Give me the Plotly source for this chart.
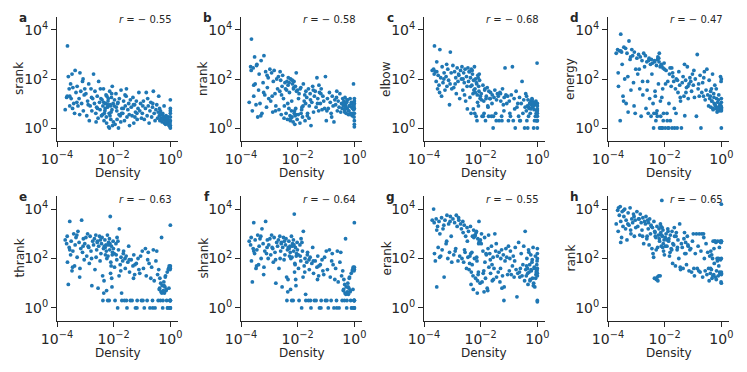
import numpy as np
import plotly.graph_objects as go

W, H = 747, 372

# log10(density), one value per matrix, shared by all eight panels
density_exp = [
    -3.71, -3.66, -3.63, -3.64, -3.60, -3.57, -3.55, -3.52, -3.50, -3.47,
    -3.44, -3.41, -3.38, -3.36, -3.33, -3.29, -3.26, -3.22, -3.19, -3.16,
    -3.13, -3.10, -3.07, -3.04, -3.02, -3.55, -3.45, -3.30, -3.20, -3.08,
    -2.98, -2.95, -2.92, -2.88, -2.86, -2.83, -2.80, -2.77, -2.74, -2.71,
    -2.68, -2.66, -2.63, -2.60, -2.58, -2.55, -2.53, -2.50, -2.48, -2.45,
    -2.43, -2.41, -2.38, -2.36, -2.34, -2.31, -2.29, -2.27, -2.25, -2.22,
    -2.20, -2.18, -2.16, -2.14, -2.12, -2.10, -2.08, -2.06, -2.04, -2.02,
    -2.30, -2.24, -2.15, -2.11, -2.05, -2.35, -2.26, -2.19, -2.09, -2.01,
    -1.98, -1.95, -1.92, -1.89, -1.86, -1.83, -1.80, -1.77, -1.74, -1.71,
    -1.68, -1.65, -1.62, -1.59, -1.56, -1.53, -1.50, -1.47, -1.44, -1.41,
    -1.38, -1.35, -1.32, -1.29, -1.26, -1.23, -1.20, -1.17, -1.14, -1.11,
    -1.08, -1.05, -1.02, -1.85, -1.75, -1.66, -1.55, -1.45, -1.30, -1.18,
    -0.99, -0.95, -0.92, -0.88, -0.85, -0.82, -0.78, -0.75, -0.72, -0.69,
    -0.66, -0.63, -0.60, -0.57, -0.54, -0.51, -0.48, -0.45, -0.43, -0.41,
    -0.39, -0.37, -0.35, -0.33, -0.31, -0.29, -0.27, -0.25, -0.23, -0.21,
    -0.19, -0.17, -0.15, -0.13, -0.11, -0.09, -0.07, -0.05, -0.03, -0.02,
    -0.38, -0.34, -0.30, -0.26, -0.22, -0.18, -0.14, -0.10, -0.06, -0.04,
    0.00, 0.00, 0.00, 0.00, 0.00, 0.00, -0.01, -0.01, 0.00, 0.00,
    -2.90, -2.62, -2.47, -2.39, -1.97, -1.88, -1.72, -1.60, -1.25, -0.97,
    -2.78, -2.57, -2.33, -2.21, -2.13, -2.07, -1.91, -1.81, -0.80, -0.62,
]

# log10 of each rank estimate
srank_exp = [
    0.75, 1.25, 3.35, 1.3, 2.1, 1.6, 0.9, 1.8, 1.2, 2.2,
    1.65, 1.0, 0.6, 2.35, 1.45, 1.7, 0.9, 1.2, 2.25, 1.5,
    1.0, 1.9, 0.7, 1.35, 1.6, 1.3, 0.8, 1.05, 0.55, 2.0,
    1.4, 0.5, 1.1, 1.8, 0.3, 0.9, 1.6, 0.7, 1.2, 2.2,
    1.0, 1.5, 0.6, 0.85, 1.3, 0.4, 1.9, 1.05, 0.75, 1.2,
    0.5, 1.15, 0.9, 1.6, 0.3, 0.7, 1.0, 1.35, 0.2, 0.85,
    1.1, 0.05, 0.6, 1.5, 0.95, 0.35, 1.25, 0.75, 0.1, 1.0,
    0.8, 1.3, 0.0, 0.9, 1.7, 1.05, 0.45, 1.2, 0.65, 0.25,
    0.9, 0.15, 1.4, 0.7, 1.0, 0.0, 1.2, 0.5, 1.55, 0.8,
    0.6, 1.1, 0.3, 0.9, 1.3, 0.45, 0.75, 1.0, 0.1, 1.15,
    0.85, 0.5, 1.25, 0.2, 0.95, 0.65, 1.1, 0.35, 0.8, 1.45,
    0.7, 1.0, 0.4, 1.05, 0.25, 0.8, 1.6, 0.55, 0.95, 0.6,
    0.6, 1.1, 0.35, 0.8, 1.45, 0.5, 0.9, 0.2, 0.7, 1.05,
    0.45, 0.85, 1.5, 0.6, 0.3, 0.75, 0.95, 0.4, 0.65, 1.3,
    0.5, 0.3, 0.7, 0.4, 0.55, 0.25, 0.6, 0.35, 0.45, 0.2,
    0.4, 0.15, 0.5, 0.3, 0.35, 0.2, 0.45, 0.1, 0.25, 0.3,
    0.8, 0.6, 0.35, 0.5, 0.9, 0.3, 0.25, 0.4, 0.2, 0.15,
    0.1, 0.3, 0.6, 0.8, 0.45, 1.15, 0.05, 0.2, 0.7, 0.0,
    0.95, 0.25, 1.6, 0.55, 1.15, 0.35, 0.6, 1.35, 0.45, 0.9,
    1.25, 0.8, 0.6, 0.95, 0.5, 1.4, 0.85, 0.55, 1.2, 1.0,
]

nrank_exp = [
    1.05, 2.5, 3.63, 2.35, 0.7, 2.45, 1.3, 2.9, 1.8, 0.95,
    2.6, 0.45, 1.55, 2.2, 1.0, 2.75, 0.6, 1.85, 2.95, 1.35,
    2.3, 0.85, 1.65, 2.05, 1.2, 1.75, 2.55, 0.5, 1.45, 2.15,
    2.4, 1.1, 2.25, 0.65, 1.9, 2.35, 1.4, 0.9, 2.0, 1.6,
    2.1, 0.75, 1.5, 1.95, 0.55, 1.7, 2.15, 1.2, 0.4, 1.85,
    1.6, 0.6, 1.9, 0.35, 1.75, 0.8, 1.45, 0.5, 2.0, 0.7,
    0.45, 1.8, 0.25, 1.65, 0.6, 0.15, 1.7, 0.55, 1.5, 0.35,
    1.85, 0.4, 1.6, 0.7, 2.25, 1.0, 0.3, 1.95, 0.5, 1.55,
    0.55, 1.4, 0.2, 1.65, 0.75, 0.45, 1.8, 1.1, 0.3, 1.5,
    1.25, 0.6, 1.6, 0.9, 1.4, 0.1, 1.05, 1.7, 0.65, 1.3,
    1.5, 0.85, 2.05, 1.2, 0.7, 1.45, 1.0, 1.6, 0.75, 1.3,
    1.1, 0.8, 2.1, 0.85, 1.35, 0.5, 1.15, 1.55, 1.0, 1.4,
    0.3, 1.2, 0.8, 1.45, 1.05, 0.6, 1.3, 0.9, 0.25, 1.15,
    0.95, 1.25, 0.7, 1.1, 0.85, 1.4, 0.65, 1.0, 0.8, 1.2,
    0.9, 1.1, 0.75, 1.25, 0.95, 0.6, 1.05, 0.8, 1.15, 0.55,
    0.7, 0.9, 1.2, 0.6, 1.0, 0.85, 0.5, 0.95, 1.8, 0.75,
    1.0, 0.65, 0.85, 1.15, 0.7, 0.9, 0.55, 1.05, 0.8, 0.6,
    0.05, 0.15, 0.6, 0.8, 1.0, 1.2, 0.45, 0.9, 0.3, 1.1,
    1.3, 2.3, 0.9, 1.55, 1.2, 0.6, 1.0, 0.4, 1.75, 0.7,
    0.7, 1.35, 2.05, 1.1, 1.9, 0.8, 1.6, 0.9, 0.45, 1.5,
]

elbow_exp = [
    2.35, 2.4, 3.35, 2.2, 2.3, 1.9, 2.7, 1.6, 2.15, 1.75,
    3.2, 2.05, 1.3, 2.5, 1.85, 2.25, 1.55, 2.1, 1.7, 2.4,
    1.95, 0.95, 3.1, 2.25, 1.6, 2.3, 1.45, 2.0, 2.6, 1.8,
    2.55, 1.65, 2.3, 2.05, 1.4, 2.45, 1.9, 2.15, 1.2, 2.35,
    2.0, 2.5, 1.55, 2.25, 1.85, 2.4, 1.1, 2.1, 1.7, 2.45,
    1.9, 2.3, 1.25, 2.05, 0.6, 1.75, 2.2, 1.4, 1.95, 2.5,
    1.6, 2.0, 0.48, 1.8, 1.35, 2.15, 0.9, 1.5, 1.95, 1.2,
    2.35, 1.55, 1.85, 1.05, 2.2, 1.7, 0.78, 1.45, 2.05, 1.3,
    1.4, 0.48, 1.75, 1.1, 1.55, 0.3, 1.3, 1.65, 0.85, 1.5,
    1.2, 1.45, 0.48, 1.35, 0.0, 1.25, 1.55, 0.6, 1.15, 1.4,
    1.3, 0.3, 1.45, 1.1, 0.48, 1.6, 0.95, 1.25, 2.45, 1.35,
    1.0, 1.3, 0.3, 1.6, 0.9, 1.2, 0.48, 0.3, 1.4, 0.7,
    1.1, 0.48, 1.35, 2.5, 0.3, 1.2, 0.0, 1.5, 0.85, 1.0,
    0.48, 1.25, 0.3, 1.0, 1.9, 0.6, 1.15, 0.0, 0.85, 1.4,
    0.7, 0.3, 0.9, 1.15, 0.48, 0.8, 1.0, 0.6, 1.1, 0.95,
    1.2, 0.85, 1.05, 0.0, 0.75, 0.95, 0.48, 1.1, 0.3, 0.7,
    1.3, 0.0, 0.85, 1.0, 0.78, 1.15, 0.9, 0.3, 1.05, 0.6,
    0.0, 0.3, 0.48, 0.6, 0.78, 0.9, 2.65, 0.3, 1.0, 0.7,
    1.8, 2.0, 0.78, 2.3, 1.15, 0.6, 0.48, 1.0, 0.3, 0.6,
    2.2, 1.35, 2.4, 0.6, 0.3, 1.7, 0.48, 1.2, 0.78, 0.3,
]

energy_exp = [
    3.05, 3.2, 1.7, 2.25, 3.15, 0.3, 3.83, 3.1, 2.6, 1.3,
    3.3, 2.0, 3.25, 1.0, 3.05, 0.65, 3.55, 2.8, 1.55, 3.2,
    2.95, 1.85, 3.1, 0.6, 2.4, 3.15, 1.1, 2.1, 2.9, 0.9,
    2.85, 2.2, 3.0, 1.6, 2.9, 0.48, 2.75, 1.35, 3.05, 2.5,
    2.95, 0.8, 2.7, 1.9, 0.6, 2.85, 1.2, 2.6, 0.48, 2.2,
    2.65, 1.0, 0.6, 2.75, 1.5, 0.3, 2.55, 0.7, 2.8, 1.8,
    2.7, 0.0, 2.5, 0.48, 2.6, 1.25, 0.0, 2.45, 0.6, 2.65,
    0.6, 2.9, 1.1, 2.55, 0.3, 2.7, 0.48, 3.05, 0.0, 2.4,
    0.0, 2.35, 0.6, 1.9, 0.0, 2.2, 0.3, 1.7, 0.0, 2.1,
    1.9, 0.0, 1.6, 2.0, 0.0, 1.45, 2.3, 1.75, 1.1, 0.0,
    1.85, 2.1, 1.3, 0.5, 1.95, 1.65, 2.5, 1.2, 1.8, 2.05,
    1.9, 1.5, 2.2, 1.0, 2.45, 0.8, 1.95, 1.25, 2.6, 1.7,
    1.75, 1.25, 2.0, 0.48, 3.0, 1.6, 1.3, 2.15, 0.0, 1.45,
    1.85, 1.3, 2.3, 1.15, 1.55, 2.4, 1.35, 0.9, 1.95, 1.2,
    1.3, 0.85, 1.6, 1.1, 2.2, 0.75, 1.4, 1.0, 1.75, 0.9,
    0.8, 1.2, 0.65, 1.05, 0.85, 1.35, 0.7, 0.95, 2.1, 0.75,
    1.5, 1.1, 0.8, 1.25, 0.95, 1.6, 0.75, 1.15, 0.9, 0.85,
    0.0, 0.8, 2.0, 0.85, 1.05, 0.75, 0.9, 1.9, 0.7, 1.2,
    2.4, 1.55, 2.8, 0.0, 1.8, 0.0, 2.25, 0.6, 1.45, 2.35,
    1.9, 2.75, 1.3, 2.85, 0.0, 1.6, 0.3, 2.45, 1.8, 2.05,
]

thrank_exp = [
    2.75, 2.6, 1.85, 2.9, 0.95, 2.45, 3.5, 2.15, 2.7, 1.5,
    2.3, 3.0, 1.7, 2.55, 2.85, 2.05, 3.1, 2.65, 1.6, 2.4,
    3.55, 2.25, 2.8, 1.95, 2.6, 2.35, 1.65, 2.95, 1.25, 2.5,
    2.85, 2.1, 3.0, 2.45, 1.8, 2.9, 2.3, 0.9, 2.7, 2.55,
    2.8, 1.55, 2.95, 2.35, 2.65, 0.8, 2.5, 2.9, 1.9, 2.2,
    2.6, 2.85, 0.3, 2.4, 1.1, 2.75, 2.15, 2.55, 0.7, 2.95,
    2.1, 2.65, 0.3, 2.35, 3.7, 1.85, 2.5, 0.85, 2.25, 2.7,
    2.45, 2.0, 2.8, 1.4, 2.15, 0.6, 2.3, 2.55, 1.7, 2.4,
    2.2, 0.3, 2.6, 1.95, 0.0, 2.35, 3.2, 1.75, 2.05, 0.3,
    1.9, 2.3, 0.3, 1.6, 2.1, 0.0, 1.85, 2.5, 1.45, 0.3,
    1.95, 0.3, 1.7, 2.15, 1.35, 0.0, 1.8, 0.3, 2.0, 1.55,
    1.4, 2.1, 0.3, 2.7, 1.5, 2.2, 0.3, 1.95, 1.2, 0.0,
    2.3, 1.6, 0.0, 2.4, 1.3, 0.3, 2.25, 1.8, 0.0, 1.2,
    1.65, 0.3, 2.35, 1.1, 0.0, 1.9, 2.3, 1.35, 0.3, 1.55,
    0.75, 1.2, 0.3, 0.65, 2.85, 0.9, 0.0, 0.7, 1.05, 0.6,
    0.85, 1.3, 0.7, 0.3, 1.45, 0.0, 1.55, 0.8, 1.65, 0.3,
    0.8, 1.0, 0.6, 0.3, 0.9, 1.25, 0.75, 0.0, 1.6, 1.7,
    0.0, 0.3, 1.7, 3.35, 1.6, 0.3, 0.0, 1.55, 0.3, 0.0,
    2.5, 2.05, 2.75, 1.3, 1.65, 2.85, 0.6, 2.0, 1.75, 0.3,
    2.0, 2.7, 2.5, 0.3, 2.6, 1.2, 2.15, 1.3, 1.95, 0.0,
]

shrank_exp = [
    2.7, 2.55, 1.9, 2.85, 1.05, 2.4, 3.45, 2.2, 2.75, 1.6,
    2.35, 2.95, 1.75, 2.5, 2.8, 2.0, 3.2, 2.6, 1.65, 2.3,
    3.5, 2.2, 2.75, 2.0, 2.55, 2.3, 1.7, 2.9, 1.35, 2.45,
    2.8, 2.15, 2.95, 2.4, 1.85, 2.85, 2.25, 1.0, 2.65, 2.5,
    2.75, 1.6, 2.9, 2.3, 2.6, 0.85, 2.45, 2.85, 1.95, 2.15,
    2.55, 2.8, 0.3, 2.35, 1.15, 2.7, 2.1, 2.5, 0.75, 2.9,
    2.05, 2.6, 0.3, 2.3, 3.8, 1.8, 2.45, 0.9, 2.2, 2.65,
    2.4, 2.0, 2.75, 1.45, 2.1, 0.65, 2.25, 2.5, 1.75, 2.35,
    2.15, 0.3, 2.55, 1.9, 0.0, 2.3, 3.1, 1.7, 2.0, 0.3,
    1.85, 2.25, 0.3, 1.55, 2.05, 0.0, 1.8, 2.45, 1.4, 0.3,
    1.9, 0.3, 1.65, 2.1, 1.3, 0.0, 1.75, 0.3, 1.95, 1.5,
    1.35, 2.05, 0.3, 2.65, 1.45, 2.15, 0.3, 1.9, 1.15, 0.0,
    2.3, 1.55, 0.0, 2.35, 1.25, 0.3, 2.2, 1.75, 0.0, 1.15,
    1.6, 0.3, 2.3, 1.05, 0.0, 1.85, 2.25, 1.3, 0.3, 1.5,
    0.7, 1.15, 0.3, 0.6, 2.8, 0.85, 0.0, 0.65, 1.0, 0.55,
    0.8, 1.25, 0.65, 0.3, 1.4, 0.0, 1.5, 0.75, 1.6, 0.3,
    0.75, 0.95, 0.55, 0.3, 0.85, 1.2, 0.7, 0.0, 1.55, 1.65,
    0.0, 0.3, 1.65, 3.45, 1.55, 0.3, 0.0, 1.5, 0.3, 0.0,
    2.45, 2.0, 2.7, 1.25, 1.6, 2.8, 0.55, 1.95, 1.7, 0.3,
    1.95, 2.65, 2.45, 0.3, 2.55, 1.15, 2.1, 1.25, 1.9, 0.0,
]

erank_exp = [
    3.55, 4.0, 2.2, 3.45, 1.9, 3.6, 0.85, 3.3, 2.45, 3.5,
    3.0, 2.1, 3.65, 2.35, 3.2, 1.25, 3.55, 2.6, 3.75, 2.0,
    3.4, 2.25, 3.7, 2.9, 1.85, 3.15, 2.05, 3.35, 2.7, 3.5,
    3.6, 2.15, 3.45, 2.4, 3.75, 3.3, 1.9, 3.55, 2.1, 3.4,
    3.2, 2.0, 3.5, 1.85, 3.35, 2.25, 2.9, 1.6, 3.25, 2.05,
    3.1, 1.55, 2.1, 3.3, 0.95, 2.25, 2.9, 1.3, 3.15, 2.0,
    2.95, 1.2, 3.05, 2.05, 0.6, 2.8, 1.45, 3.5, 2.7, 1.0,
    1.75, 2.85, 3.1, 1.1, 2.65, 2.2, 0.75, 2.95, 1.35, 2.75,
    2.6, 1.05, 2.3, 1.5, 2.85, 1.2, 2.15, 0.8, 2.4, 1.65,
    2.2, 1.4, 2.5, 1.1, 2.05, 1.6, 3.0, 2.3, 1.25, 2.1,
    1.45, 2.25, 1.05, 2.0, 2.35, 1.3, 2.15, 0.85, 1.9, 2.4,
    2.05, 1.35, 2.5, 1.85, 0.7, 1.95, 1.15, 2.6, 1.6, 0.3,
    1.5, 2.3, 1.35, 1.7, 2.1, 1.25, 2.45, 1.55, 0.45, 1.4,
    2.65, 1.45, 1.6, 2.2, 1.3, 1.75, 2.5, 1.1, 3.1, 1.55,
    1.3, 2.0, 1.6, 0.95, 2.35, 1.45, 1.75, 1.15, 2.15, 1.5,
    1.85, 1.2, 2.45, 1.0, 1.65, 0.85, 2.1, 1.35, 1.55, 1.75,
    1.7, 1.4, 2.25, 1.1, 1.55, 1.95, 0.9, 1.6, 1.2, 1.45,
    2.0, 0.25, 0.3, 2.4, 1.6, 1.3, 1.9, 1.5, 1.4, 2.2,
    2.3, 3.05, 2.7, 1.8, 3.0, 0.65, 2.95, 1.75, 0.8, 2.0,
    3.65, 2.35, 1.45, 2.9, 1.9, 2.6, 1.4, 2.2, 1.9, 1.25,
]

rank_exp = [
    3.4, 3.95, 4.05, 3.1, 3.75, 4.1, 3.5, 2.85, 3.9, 3.3,
    3.7, 4.0, 3.2, 3.55, 2.75, 3.85, 3.35, 4.05, 3.0, 3.6,
    3.45, 3.8, 2.9, 3.55, 3.25, 2.65, 3.95, 3.4, 3.15, 3.7,
    3.9, 3.3, 3.6, 2.95, 3.8, 3.45, 3.15, 3.65, 2.6, 3.5,
    3.4, 3.7, 2.8, 3.55, 3.2, 2.55, 3.6, 3.0, 3.35, 2.4,
    3.25, 2.2, 3.5, 1.2, 3.05, 2.85, 1.15, 3.3, 2.45, 2.95,
    3.2, 2.7, 1.3, 3.05, 2.5, 4.35, 2.9, 3.15, 2.3, 2.75,
    2.35, 1.1, 3.4, 2.95, 2.6, 3.1, 1.25, 2.8, 3.25, 2.15,
    2.85, 3.0, 2.5, 3.2, 2.7, 2.1, 2.95, 2.4, 3.1, 2.6,
    2.55, 2.9, 1.7, 3.05, 2.35, 2.75, 2.0, 3.4, 1.55, 2.6,
    2.45, 1.6, 2.8, 2.2, 2.65, 1.75, 2.9, 2.5, 1.5, 2.35,
    2.4, 1.45, 2.7, 2.8, 2.35, 3.25, 2.45, 1.65, 3.05, 2.55,
    3.0, 1.3, 2.2, 3.0, 1.6, 2.5, 3.0, 1.45, 2.3, 3.0,
    1.25, 3.0, 2.0, 1.5, 2.6, 1.35, 2.25, 1.6, 1.1, 2.1,
    1.4, 2.3, 1.55, 1.2, 2.0, 2.7, 1.35, 1.8, 2.7, 1.25,
    2.65, 1.5, 2.0, 2.7, 1.3, 1.7, 2.45, 1.4, 1.95, 2.65,
    1.6, 2.15, 1.3, 2.4, 2.7, 1.15, 1.9, 2.0, 1.45, 2.7,
    4.2, 2.7, 1.4, 1.0, 2.0, 1.45, 2.65, 1.05, 1.35, 2.7,
    3.6, 2.9, 3.3, 2.05, 2.5, 3.1, 1.8, 2.9, 2.2, 1.6,
    2.9, 3.45, 2.9, 1.3, 3.3, 2.45, 2.75, 2.25, 1.5, 2.85,
]

panel_letters = ["a", "b", "c", "d", "e", "f", "g", "h"]
measure_names = ["srank", "nrank", "elbow", "energy", "thrank", "shrank", "erank", "rank"]
measure_values = [srank_exp, nrank_exp, elbow_exp, energy_exp,
                  thrank_exp, shrank_exp, erank_exp, rank_exp]
r_values = [-0.55, -0.58, -0.68, -0.47, -0.63, -0.64, -0.55, -0.65]

x_tickvals = [1e-4, 1e-2, 1]
x_ticktext = ["10<sup>−4</sup>", "10<sup>−2</sup>", "10<sup>0</sup>"]
y_tickvals = [1, 1e2, 1e4]
y_ticktext = ["10<sup>0</sup>", "10<sup>2</sup>", "10<sup>4</sup>"]

# pixel geometry of the axes boxes
col_left = [57, 241, 424, 608]
ax_w = 121
row_top = [17, 196]
row_bot = [141, 321]

FONT = "DejaVu Sans"
INK = "#262626"
BLUE = "#1f77b4"


def px(x):
    return x / W


def py(y):
    return 1 - y / H


density = np.power(10.0, density_exp)

fig = go.Figure()
annotations = []
layout = {}

for i, (letter, name, vals, r) in enumerate(zip(panel_letters, measure_names, measure_values, r_values)):
    row, col = divmod(i, 4)
    n = "" if i == 0 else str(i + 1)
    x0, x1 = col_left[col], col_left[col] + ax_w
    y0, y1 = row_top[row], row_bot[row]

    fig.add_trace(go.Scatter(
        x=density, y=np.power(10.0, vals),
        mode="markers",
        marker=dict(size=3.8, color=BLUE, line=dict(width=0)),
        xaxis="x" + n, yaxis="y" + n,
        showlegend=False, hoverinfo="skip",
    ))

    common = dict(
        type="log", showgrid=False, zeroline=False,
        showline=True, linecolor=INK, linewidth=1,
        ticks="outside", ticklen=5, tickwidth=1, tickcolor=INK,
        tickfont=dict(family=FONT, size=14, color=INK),
        tickmode="array", automargin=False,
    )
    layout["xaxis" + n] = dict(
        common, domain=[px(x0), px(x1)], range=[-4, 0.27],
        tickvals=x_tickvals, ticktext=x_ticktext, anchor="y" + n,
    )
    layout["yaxis" + n] = dict(
        common, domain=[py(y1), py(y0)], range=[-0.53, 4.53],
        tickvals=y_tickvals, ticktext=y_ticktext, anchor="x" + n,
    )

    annotations += [
        dict(x=px(x0 - 34), y=py(y0 + 1), text="<b>" + letter + "</b>",
             font=dict(family=FONT, size=12, color=INK)),
        dict(x=px(x1 - 4), y=py(y0 + 3), xanchor="right",
             text="<i>r</i> = − " + f"{abs(r):.2f}",
             font=dict(family=FONT, size=10, color=INK)),
        dict(x=px(x0 - 38), y=py((y0 + y1) / 2), text=name, textangle=-90,
             font=dict(family=FONT, size=12, color=INK)),
        dict(x=px((x0 + x1) / 2), y=py(y1 + 32), text="Density",
             font=dict(family=FONT, size=12, color=INK)),
    ]

for a in annotations:
    a.update(xref="paper", yref="paper", showarrow=False)
    a.setdefault("xanchor", "center")
    a.setdefault("yanchor", "middle")

fig.update_layout(
    width=W, height=H,
    margin=dict(l=0, r=0, t=0, b=0),
    paper_bgcolor="white", plot_bgcolor="white",
    font=dict(family=FONT, color=INK),
    annotations=annotations,
    **layout,
)

# drop the browser's default 8px body margin so the figure sits at the page origin
fig.write_html("out.html", config={"displayModeBar": False},
               post_script="document.body.style.margin = '0';")
